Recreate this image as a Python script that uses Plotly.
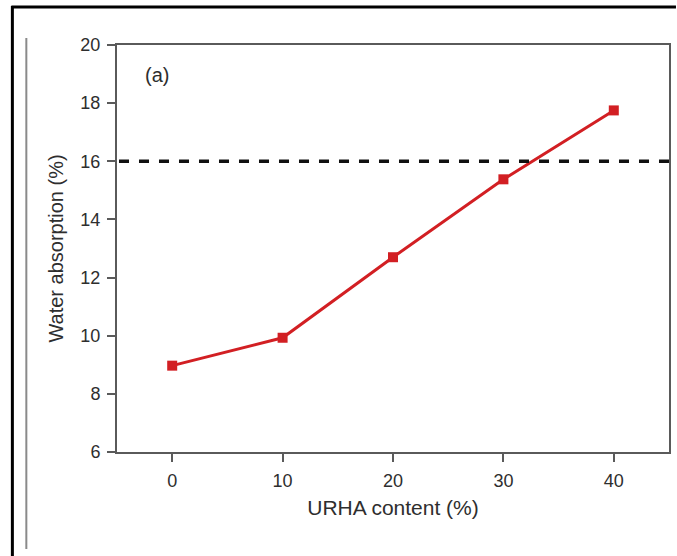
import plotly.graph_objects as go

urha_content = [0, 10, 20, 30, 40]
water_absorption = [8.97, 9.93, 12.70, 15.38, 17.75]
threshold = 16
x_ticks = [0, 10, 20, 30, 40]
y_ticks = [6, 8, 10, 12, 14, 16, 18, 20]

W, H = 677, 556
L, R, T, B = 117, 671, 45, 452

def px(x):
    return (x - L) / (R - L)

def py(y):
    return (B - y) / (B - T)

FAM = "Liberation Sans, Arial, sans-serif"
TXT = "#2e2e2e"

fig = go.Figure()
fig.add_trace(go.Scatter(
    x=urha_content, y=water_absorption, mode="lines+markers",
    line=dict(color="#d21f23", width=3),
    marker=dict(symbol="square", size=10, color="#d21f23"),
    showlegend=False, cliponaxis=False,
))

font = dict(family=FAM, size=18, color=TXT)
axis_common = dict(
    showline=True, linecolor="#5a5a5a", linewidth=2, mirror=True,
    ticks="outside", ticklen=8, tickwidth=2, tickcolor="#5a5a5a",
    showgrid=False, zeroline=False, tickfont=font, ticklabelstandoff=3,
)
fig.update_xaxes(range=[-5, 45], tickvals=x_ticks,
                 title=dict(text="URHA content (%)", font=dict(family=FAM, size=21, color=TXT), standoff=11),
                 **axis_common)
fig.update_yaxes(range=[6, 20], tickvals=y_ticks,
                 title=dict(text="Water absorption (%)", font=dict(family=FAM, size=20, color=TXT), standoff=11),
                 **axis_common)

shapes = [
    # dashed threshold line
    dict(type="line", xref="paper", yref="y", x0=px(119), x1=px(678), y0=threshold, y1=threshold,
         line=dict(color="#111111", width=3.5, dash="10px,10px")),
    # outer black frame (top and left)
    dict(type="line", xref="paper", yref="paper", x0=px(11), x1=px(678), y0=py(7), y1=py(7),
         line=dict(color="#000000", width=3)),
    dict(type="line", xref="paper", yref="paper", x0=px(12), x1=px(12), y0=py(6), y1=py(557),
         line=dict(color="#000000", width=3)),
    # gray vertical line
    dict(type="line", xref="paper", yref="paper", x0=px(26), x1=px(26), y0=py(38), y1=py(549),
         line=dict(color="#8a8a8a", width=2)),
]
fig.update_layout(
    width=W, height=H,
    margin=dict(l=L, r=W - R, t=T, b=H - B),
    paper_bgcolor="white", plot_bgcolor="white",
    shapes=shapes,
    annotations=[dict(text="(a)", xref="paper", yref="paper", x=px(157), y=py(75),
                      showarrow=False, xanchor="center", yanchor="middle",
                      font=dict(family=FAM, size=20, color=TXT))],
)
fig.write_html("out.html")
